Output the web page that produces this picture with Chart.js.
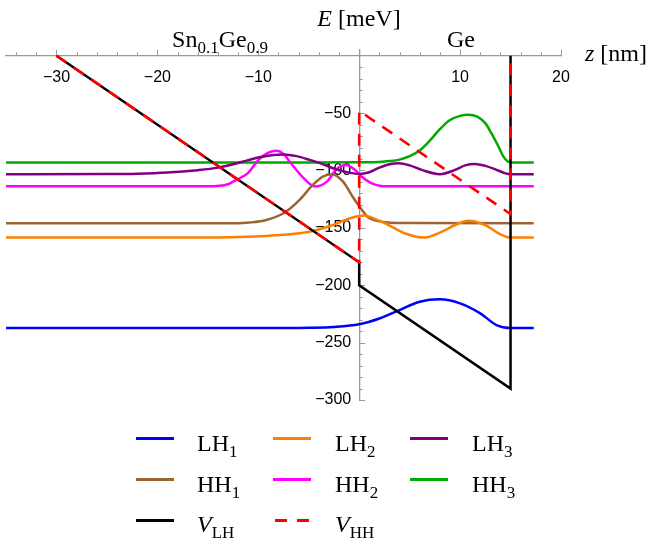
<!DOCTYPE html>
<html>
<head>
<meta charset="utf-8">
<script src="https://cdn.jsdelivr.net/npm/chart.js@4"></script>
<style>
  body { margin: 0; background: #fff; }
  #wrap { position: relative; width: 653px; height: 538px; }
  .lbl { position: absolute; font-family: "Liberation Serif", serif; font-size: 24px; line-height: 24px; color: #000; white-space: nowrap; }
  .lbl sub { font-size: 17px; vertical-align: baseline; position: relative; top: 6px; }
  .key { position: absolute; width: 38px; height: 3px; }
</style>
</head>
<body>
<div id="wrap">
  <canvas id="chart"></canvas>

  <div class="lbl" style="left:359px; top:6px; transform:translateX(-50%)"><i>E</i> [meV]</div>
  <div class="lbl" style="left:585px; top:41px"><i>z</i> [nm]</div>
  <div class="lbl" style="left:220px; top:27px; transform:translateX(-50%)">Sn<sub>0.1</sub>Ge<sub>0.9</sub></div>
  <div class="lbl" style="left:461px; top:27px; transform:translateX(-50%)">Ge</div>

  <!-- legend -->
  <div class="key" style="left:136px; top:437px; background:#0000ff"></div>
  <div class="lbl" style="left:197px; top:431px">LH<sub>1</sub></div>
  <div class="key" style="left:273px; top:437px; background:#ff8000"></div>
  <div class="lbl" style="left:335px; top:431px">LH<sub>2</sub></div>
  <div class="key" style="left:410px; top:437px; background:#800080"></div>
  <div class="lbl" style="left:472px; top:431px">LH<sub>3</sub></div>

  <div class="key" style="left:136px; top:478px; background:#996633"></div>
  <div class="lbl" style="left:197px; top:472px">HH<sub>1</sub></div>
  <div class="key" style="left:273px; top:478px; background:#ff00ff"></div>
  <div class="lbl" style="left:335px; top:472px">HH<sub>2</sub></div>
  <div class="key" style="left:410px; top:478px; background:#00aa00"></div>
  <div class="lbl" style="left:472px; top:472px">HH<sub>3</sub></div>

  <div class="key" style="left:136px; top:519px; background:#000"></div>
  <div class="lbl" style="left:197px; top:512px"><i>V</i><sub>LH</sub></div>
  <div class="key" style="left:275px; top:519px; width:34px; background:repeating-linear-gradient(90deg, #ff0000 0 12px, transparent 12px 22px)"></div>
  <div class="lbl" style="left:335px; top:512px"><i>V</i><sub>HH</sub></div>
</div>

<script>
// energy levels (meV) against position z (nm)
const zLH1 = [-35, -10, -5, -2.5, 0, 2, 4, 6, 8, 10, 12, 13.6, 15, 17.3];
const eLH1 = [-237.3, -237.3, -237, -236.3, -234, -229, -221.6, -214.4, -212.3, -215.8, -224.5, -234.7, -237.3, -237.3];

const zLH2 = [-35, -14, -12, -9.2, -5.9, -4.2, -2.6, -0.9, 0.5, 1.2, 2.9, 4.5, 6.4, 8.2, 9.5, 10.8, 12.5, 13.8, 15, 17.3];
const eLH2 = [-158.5, -158.4, -158, -157, -154.7, -151.8, -147.5, -141.6, -139.3, -140.8, -147.5, -154.7, -158.5, -153.3, -147.5, -143.7, -147.5, -154.7, -158.5, -158.5];

const zLH3 = [-35, -25, -22, -19, -16, -14, -12.5, -11, -9.9, -8.5, -7.5, -6.2, -4.9, -3.5, -2.6, -1.5, 0, 1, 2, 3, 3.9, 5, 6.2, 8, 9.5, 10.5, 11.5, 12.5, 13.5, 14.5, 15, 17.3];
const eLH3 = [-103.2, -103.1, -102.8, -101.8, -99.7, -97.5, -94.5, -91, -88.5, -86.5, -86, -87.5, -90.8, -94.8, -98, -100.8, -103, -101.5, -97.5, -94.5, -93.6, -95.5, -99.5, -103.2, -99.5, -95.5, -94.3, -96, -99, -102.5, -103.2, -103.2];

const zHH1 = [-35, -12, -10.9, -9.2, -7.5, -5.9, -4.6, -3.6, -2.7, -1.6, -0.6, 0, 0.9, 2.2, 4.5, 17.3];
const eHH1 = [-146, -146, -145.4, -143.1, -137.3, -125.6, -112.6, -105.3, -103.2, -109.7, -123.5, -131, -140.8, -144.6, -145.8, -146];

const zHH2 = [-35, -15, -13, -12.5, -12, -11, -10, -9, -8.2, -7.5, -6.9, -5.5, -4.4, -3.2, -2.2, -1.3, -0.4, 0.2, 1.2, 2, 2.9, 17.3];
const eHH2 = [-113.8, -113.8, -112, -109.7, -107.5, -102, -91, -84.5, -82.9, -85.5, -92.2, -106.7, -114, -109.7, -98.5, -95.2, -99.5, -105, -111, -113.3, -113.8, -113.8];

const zHH3 = [-35, -5, 0, 2, 3, 4, 5, 6, 7, 8, 9, 10, 10.8, 11.7, 12.5, 13.1, 13.8, 14.3, 14.7, 15.1, 17.3];
const eHH3 = [-93, -93, -92.8, -92.5, -91.8, -90.5, -87.5, -82.5, -74, -64, -56, -52.4, -51.5, -53, -58.7, -67.5, -79.1, -87.9, -92, -93, -93];

// band edges
const zVLH = [-30, 0, 0, 15, 15];
const eVLH = [0, -180, -200, -290, 0];
const zVHH = [-30, 0, 0, 15, 15];
const eVHH = [0, -180, -48, -138, 0];

const xTickValues = [-30, -20, -10, 10, 20];
const yTickValues = [-50, -100, -150, -200, -250, -300];

const axisColor = '#9a9a9a';

const pts = (zs, es) => zs.map((z, i) => ({ x: z, y: es[i] }));
const minus = (v) => String(v).replace('-', '\u2212');

function level(label, zs, es, color) {
    return {
        label: label,
        data: pts(zs, es),
        borderColor: color,
        borderWidth: 2.5,
        pointRadius: 0,
        fill: false,
        cubicInterpolationMode: 'monotone',
        order: 2
    };
}

// minor and major tick marks pointing into the plot
const axisTicks = {
    id: 'axisTicks',
    beforeDatasetsDraw(chart) {
        const { ctx, scales: { x, y } } = chart;
        const x0 = x.getPixelForValue(0);
        const y0 = y.getPixelForValue(0);
        ctx.save();
        ctx.strokeStyle = axisColor;
        ctx.lineWidth = 1;
        ctx.beginPath();
        for (let v = -34; v <= 20; v += 2) {
            if (v === 0) continue;
            const len = v % 10 === 0 ? 6 : 3.5;
            const px = Math.round(x.getPixelForValue(v)) + 0.5;
            ctx.moveTo(px, y0);
            ctx.lineTo(px, y0 - len);
        }
        for (let v = -10; v >= -300; v -= 10) {
            const len = v % 50 === 0 ? 6 : 3.5;
            const py = Math.round(y.getPixelForValue(v)) + 0.5;
            ctx.moveTo(x0, py);
            ctx.lineTo(x0 + len, py);
        }
        ctx.stroke();
        ctx.restore();
    }
};

const ctx = document.getElementById('chart').getContext('2d');
const chart = new Chart(ctx, {
    type: 'line',
    data: {
        datasets: [
            {
                label: 'V_HH',
                data: pts(zVHH, eVHH),
                borderColor: '#ff0000',
                borderWidth: 2.6,
                borderDash: [12, 9],
                pointRadius: 0,
                tension: 0,
                order: 0
            },
            {
                label: 'V_LH',
                data: pts(zVLH, eVLH),
                borderColor: '#000000',
                borderWidth: 2.5,
                pointRadius: 0,
                tension: 0,
                order: 1
            },
            level('LH1', zLH1, eLH1, '#0000ff'),
            level('LH2', zLH2, eLH2, '#ff8000'),
            level('LH3', zLH3, eLH3, '#800080'),
            level('HH1', zHH1, eHH1, '#996633'),
            level('HH2', zHH2, eHH2, '#ff00ff'),
            level('HH3', zHH3, eHH3, '#00aa00')
        ]
    },
    options: {
        responsive: true,
        maintainAspectRatio: false,
        animation: false,
        layout: { padding: { left: 6, right: 92, top: 50, bottom: 138 } },
        plugins: {
            legend: { display: false },
            tooltip: { enabled: false }
        },
        scales: {
            x: {
                type: 'linear',
                position: { y: 0 },
                min: -35,
                max: 20,
                afterFit: (s) => { s.height = 0; },
                afterBuildTicks: (s) => { s.ticks = xTickValues.map(v => ({ value: v })); },
                grid: { display: false, drawTicks: false },
                border: { display: true, color: axisColor, width: 1.3 },
                ticks: {
                    padding: 12,
                    color: '#000',
                    font: { family: 'Liberation Sans', size: 16 },
                    maxRotation: 0,
                    callback: (v) => minus(v)
                }
            },
            y: {
                type: 'linear',
                position: { x: 0 },
                min: -300,
                max: 5,
                afterFit: (s) => { s.width = 0; },
                afterBuildTicks: (s) => { s.ticks = yTickValues.map(v => ({ value: v })); },
                grid: { display: false, drawTicks: false },
                border: { display: true, color: axisColor, width: 1.3 },
                ticks: {
                    color: '#000',
                    font: { family: 'Liberation Sans', size: 16 },
                    // labels sit right on the axis here, so pad them with spaces
                    callback: (v) => minus(v) + '\u2002'
                }
            }
        }
    },
    plugins: [axisTicks]
});
</script>
</body>
</html>
